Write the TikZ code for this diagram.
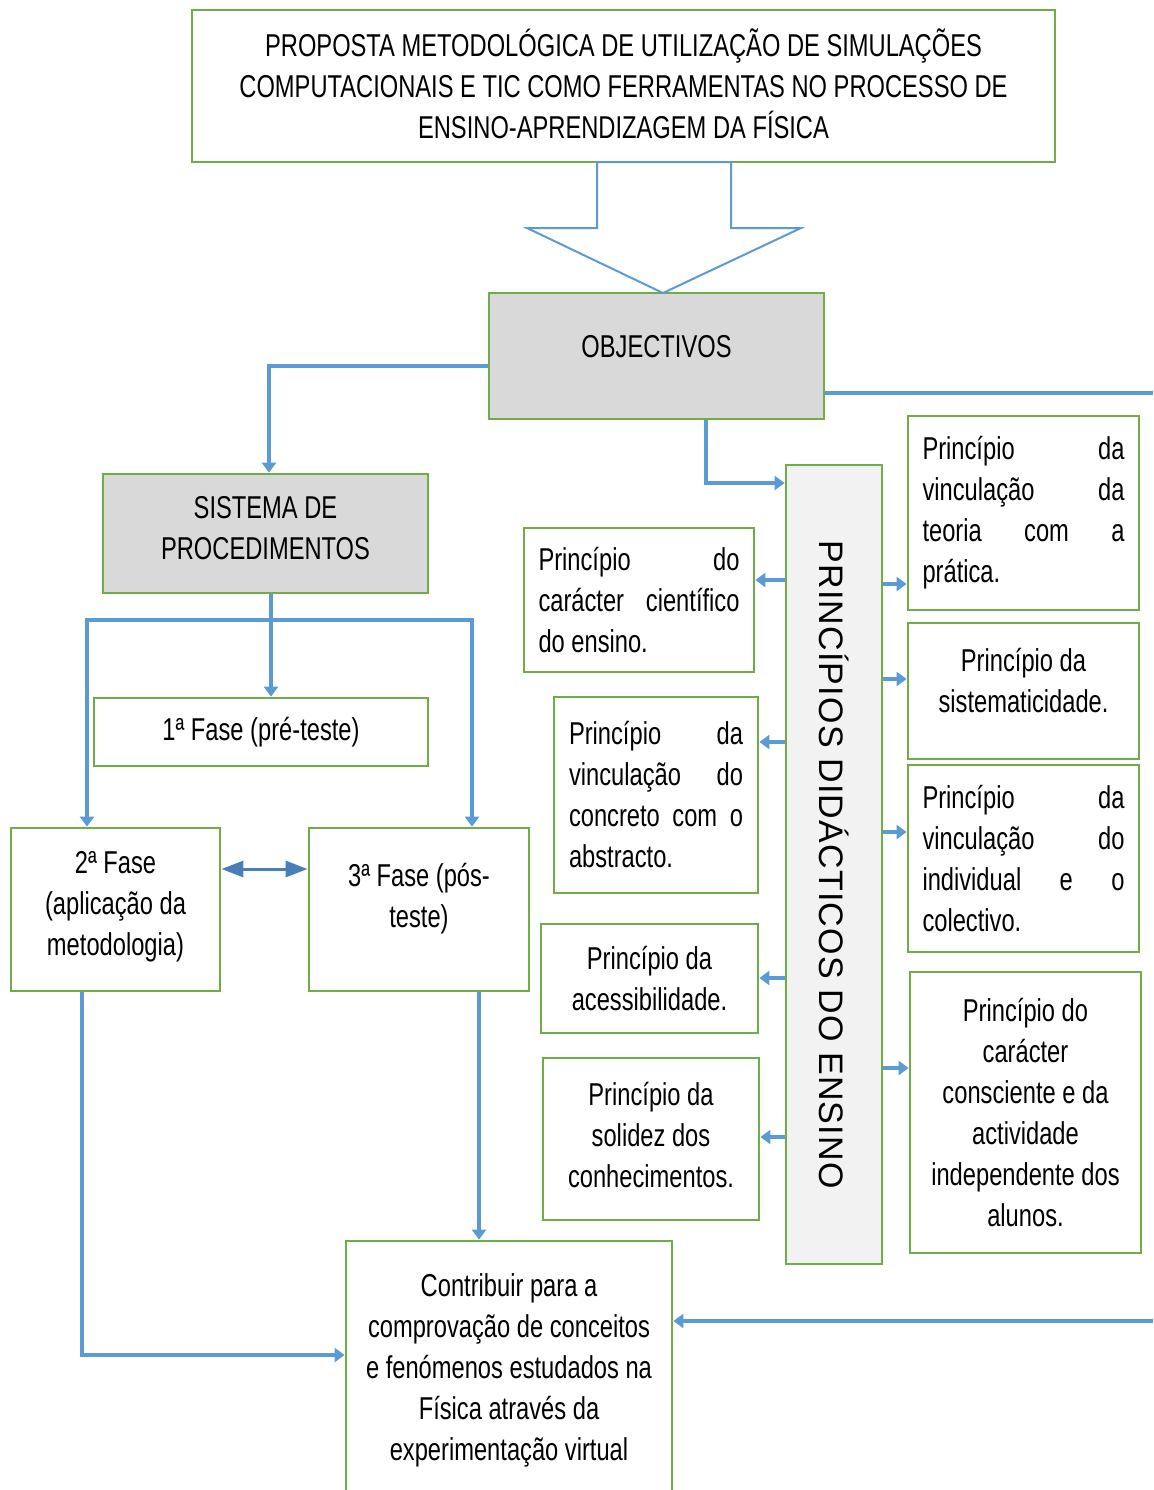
\documentclass[tikz,border=0pt]{standalone}
\usepackage{fontspec}
\setmainfont{Liberation Sans}[FakeStretch=0.75]
\newfontfamily\widefont{Liberation Sans}[LetterSpace=3.5]
\usetikzlibrary{arrows.meta}
\definecolor{boxgreen}{HTML}{70AD47}
\definecolor{linkblue}{HTML}{5B9BD5}
\definecolor{darkblue}{HTML}{4A7EBB}
\definecolor{headgray}{HTML}{D9D9D9}
\definecolor{sidegray}{HTML}{F2F2F2}
\newcommand{\jline}[2]{\makebox[#1][s]{#2}}
\tikzset{
  > = {Triangle[width=7pt, length=5pt]},
  box/.style = {draw = boxgreen, line width = 1.4pt, inner sep = 0pt, align = center,
    font = \fontsize{15.8pt}{20.5pt}\selectfont},
  link/.style = {draw = linkblue, line width = 1.8pt}
}

\begin{document}
\begin{tikzpicture}[x = 0.5pt, y = -0.5pt]
  \useasboundingbox (0,0) rectangle (1153,1490);
  % top
  \node [box, minimum width = 431.5pt, minimum height = 76pt, text depth = 2pt] (title) at (623.5,86)
    {PROPOSTA METODOLÓGICA DE UTILIZAÇÃO DE SIMULAÇÕES\\
     COMPUTACIONAIS E TIC COMO FERRAMENTAS NO PROCESSO DE\\
     ENSINO-APRENDIZAGEM DA FÍSICA};
  \node [box, fill = headgray, minimum width = 167.5pt, minimum height = 63pt,
    text depth = 10pt] (obj) at (656.5,356) {OBJECTIVOS};
  \draw [linkblue, line width = 1pt, fill = white]
    (597,162) -- (597,228) -- (527,228) -- (663,293) -- (801,228) -- (731,228) -- (731,162) -- cycle;

  % procedures
  \node [box, fill = headgray, minimum width = 162.5pt, minimum height = 59.5pt,
    text depth = 6pt] (sist) at (265.5,533.5) {SISTEMA DE\\PROCEDIMENTOS};
  \node [box, minimum width = 167pt, minimum height = 34pt] (fase1) at (261,732)
    {1ª Fase (pré-teste)};
  \node [box, minimum width = 104.5pt, minimum height = 81.5pt, text depth = 6pt]
    (fase2) at (115.5,909.5) {2ª Fase\\(aplicação da\\metodologia)};
  \node [box, minimum width = 110pt, minimum height = 81.5pt, text depth = 14pt]
    (fase3) at (419,909.5) {3ª Fase (pós-\\teste)};
  \node [box, minimum width = 163pt, minimum height = 129.5pt] (contrib) at (509,1370.5)
    {Contribuir para a\\comprovação de conceitos\\e fenómenos estudados na\\Física através da\\experimentação virtual};

  % principles
  \node [box, fill = sidegray, minimum width = 48pt, minimum height = 399.5pt] (pdv) at (834,864.5)
    {\rotatebox{-90}{\widefont\fontsize{17pt}{18pt}\selectfont PRINCÍPIOS DIDÁCTICOS DO ENSINO}};
  \node [box, align = left, minimum width = 115pt, minimum height = 72pt] (carac) at (639,600)
    {\jline{100.5pt}{Princípio do}\\\jline{100.5pt}{carácter científico}\\do ensino.};
  \node [box, align = left, minimum width = 102pt, minimum height = 98pt] (concreto) at (656,795)
    {\jline{87pt}{Princípio da}\\\jline{87pt}{vinculação do}\\\jline{87pt}{concreto com o}\\abstracto.};
  \node [box, minimum width = 108.5pt, minimum height = 54.5pt] (acess) at (649.5,978.5)
    {Princípio da\\acessibilidade.};
  \node [box, minimum width = 108pt, minimum height = 81pt, text depth = 4pt] (solidez) at (651,1139)
    {Princípio da\\solidez dos\\conhecimentos.};
  \node [box, align = left, minimum width = 115.5pt, minimum height = 97pt] (teoria) at (1023.5,513)
    {\jline{101pt}{Princípio da}\\\jline{101pt}{vinculação da}\\\jline{101pt}{teoria com a}\\prática.};
  \node [box, minimum width = 115.5pt, minimum height = 68pt, text depth = 11pt] (sistem) at (1023.5,691)
    {Princípio da\\sistematicidade.};
  \node [box, align = left, minimum width = 115.5pt, minimum height = 93.5pt] (individ) at (1023.5,858.5)
    {\jline{101pt}{Princípio da}\\\jline{101pt}{vinculação do}\\\jline{101pt}{individual e o}\\colectivo.};
  \node [box, minimum width = 115.5pt, minimum height = 140.5pt] (consc) at (1025.5,1112.5)
    {Princípio do\\carácter\\consciente e da\\actividade\\independente dos\\alunos.};

  % connectors
  \coordinate (edgeA) at (1153,393);
  \coordinate (edgeB) at (1153,1321);
  \coordinate (split) at (271,620);
  \draw [link, ->] ([yshift = -5pt]obj.west) -| ([xshift = 1.75pt]sist.north);
  \draw [link] (obj.east |- edgeA) -- (edgeA);
  \draw [link, ->] (706,0 |- obj.south) |- (pdv.west |- 0,483);
  \draw [link, ->] (edgeB) -- (contrib.east |- edgeB);
  \draw [link] ([xshift = 2.75pt]sist.south) -- (split);
  \draw [link, ->] (split) -- (split |- fase1.north);
  \draw [link, ->] (split) -| ([xshift = -14.25pt]fase2.north);
  \draw [link, ->] (split) -| ([xshift = 26.5pt]fase3.north);
  \draw [darkblue, line width = 1.5pt, {Triangle[width = 8pt, length = 11pt]}-{Triangle[width = 8pt, length = 11pt]}]
    (fase2.east |- 0,869) -- (fase3.west |- 0,869);
  \draw [link, ->] ([xshift = -16.75pt]fase2.south) |- (contrib.west |- 0,1355);
  \draw [link, ->] ([xshift = 30pt]fase3.south) -- ([xshift = 30pt]fase3.south |- contrib.north);
  \foreach \tgt/\y in {carac/580, concreto/742, acess/978, solidez/1137}
    \draw [link, ->] (pdv.west |- 0,\y) -- (\tgt.east |- 0,\y);
  \foreach \tgt/\y in {teoria/584, sistem/679, individ/832, consc/1068}
    \draw [link, ->] (pdv.east |- 0,\y) -- (\tgt.west |- 0,\y);
\end{tikzpicture}
\end{document}
